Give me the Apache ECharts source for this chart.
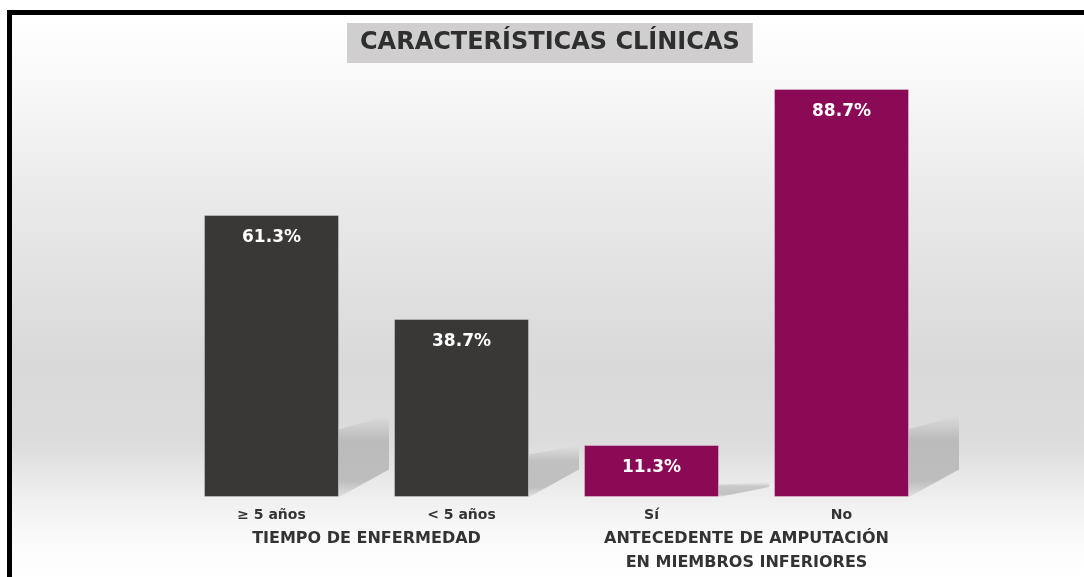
<!DOCTYPE html>
<html>
<head>
<meta charset="utf-8">
<script src="https://cdn.jsdelivr.net/npm/echarts@6/dist/echarts.min.js"></script>
<style>
  html, body { margin: 0; padding: 0; background: #fff; }
  #chart { width: 1084px; height: 577px; }
</style>
</head>
<body>
<div id="chart"></div>
<script>
// categories and values
const categories = ['≥ 5 años', '< 5 años', 'Sí', 'No']
const groups = ['TIEMPO DE ENFERMEDAD', 'ANTECEDENTE DE AMPUTACIÓN\nEN MIEMBROS INFERIORES']
const values = [61.3, 38.7, 11.3, 88.7]
const barColors = ['#3a3836', '#3a3836', '#8b0a55', '#8b0a55']

const chart = echarts.init(document.getElementById('chart'))

// soft floor shadow behind each bar, to the right
function renderShadow(params, api) {
  const idx = api.value(0)
  const top = api.coord([idx, api.value(1)])
  const base = api.coord([idx, 0])
  const xr = base[0] + 67.5
  const y0 = base[1]
  const h = Math.min((y0 - top[1]) * 0.24, 68)
  const w = 50
  return {
    type: 'polygon',
    shape: {
      points: [
        [xr, y0],
        [xr, y0 - h],
        [xr + w, y0 - h * 1.2],
        [xr + w, y0 - Math.min(w * 0.55, h * 0.8)]
      ]
    },
    style: {
      fill: new echarts.graphic.LinearGradient(0, 0, 0, 1, [
        { offset: 0, color: 'rgba(0,0,0,0.0)' },
        { offset: 0.3, color: 'rgba(0,0,0,0.15)' },
        { offset: 0.8, color: 'rgba(0,0,0,0.19)' },
        { offset: 1, color: 'rgba(0,0,0,0.06)' }
      ])
    }
  }
}

const option = {
  backgroundColor: '#ffffff',
  animation: false,
  graphic: [
    {
      type: 'rect', z: -10, silent: true,
      shape: { x: 12, y: 15, width: 1072, height: 562 },
      style: {
        fill: new echarts.graphic.LinearGradient(0, 0, 0, 1, [
          { offset: 0, color: '#ffffff' },
          { offset: 0.1, color: '#fafafa' },
          { offset: 0.3, color: '#ebebeb' },
          { offset: 0.62, color: '#d9d9d9' },
          { offset: 0.76, color: '#dcdcdc' },
          { offset: 0.87, color: '#f1f1f1' },
          { offset: 0.94, color: '#fbfbfb' },
          { offset: 1, color: '#ffffff' }
        ])
      }
    },
    // black frame (left and top edges)
    { type: 'rect', z: 10, silent: true, shape: { x: 7, y: 10, width: 5, height: 567 }, style: { fill: '#000' } },
    { type: 'rect', z: 10, silent: true, shape: { x: 7, y: 10, width: 1077, height: 5 }, style: { fill: '#000' } }
  ],
  title: {
    text: 'CARACTERÍSTICAS CLÍNICAS',
    left: 347,
    top: 23,
    padding: [8, 13, 8, 13],
    backgroundColor: '#d0cece',
    textStyle: {
      fontFamily: 'DejaVu Sans',
      fontWeight: 'bold',
      fontSize: 24,
      color: '#2f2f2f'
    }
  },
  grid: { left: 176.5, right: 147.5, top: 37, bottom: 80 },
  xAxis: [
    {
      type: 'category',
      data: categories,
      axisLine: { show: false },
      axisTick: { show: false },
      axisLabel: {
        color: '#333333',
        fontFamily: 'DejaVu Sans',
        fontWeight: 'bold',
        fontSize: 14,
        margin: 11
      }
    },
    {
      type: 'category',
      data: groups,
      position: 'bottom',
      offset: 22,
      axisLine: { show: false },
      axisTick: { show: false },
      axisLabel: {
        color: '#333333',
        fontFamily: 'DejaVu Sans',
        fontWeight: 'bold',
        fontSize: 16,
        lineHeight: 24,
        margin: 8
      }
    }
  ],
  yAxis: {
    type: 'value',
    min: 0,
    max: 100,
    show: false
  },
  series: [
    {
      type: 'custom',
      xAxisIndex: 0,
      z: 1,
      silent: true,
      renderItem: renderShadow,
      data: values.map((v, i) => [i, v])
    },
    {
      type: 'bar',
      xAxisIndex: 0,
      z: 2,
      barWidth: 135,
      data: values.map((v, i) => ({
        value: v,
        itemStyle: { color: barColors[i] }
      })),
      itemStyle: { borderColor: 'rgba(255,255,255,0.3)', borderWidth: 1 },
      label: {
        show: true,
        position: 'insideTop',
        distance: 14,
        formatter: p => p.value.toFixed(1) + '%',
        color: '#ffffff',
        fontFamily: 'DejaVu Sans',
        fontWeight: 'bold',
        fontSize: 17
      }
    }
  ]
}

chart.setOption(option)
</script>
</body>
</html>
